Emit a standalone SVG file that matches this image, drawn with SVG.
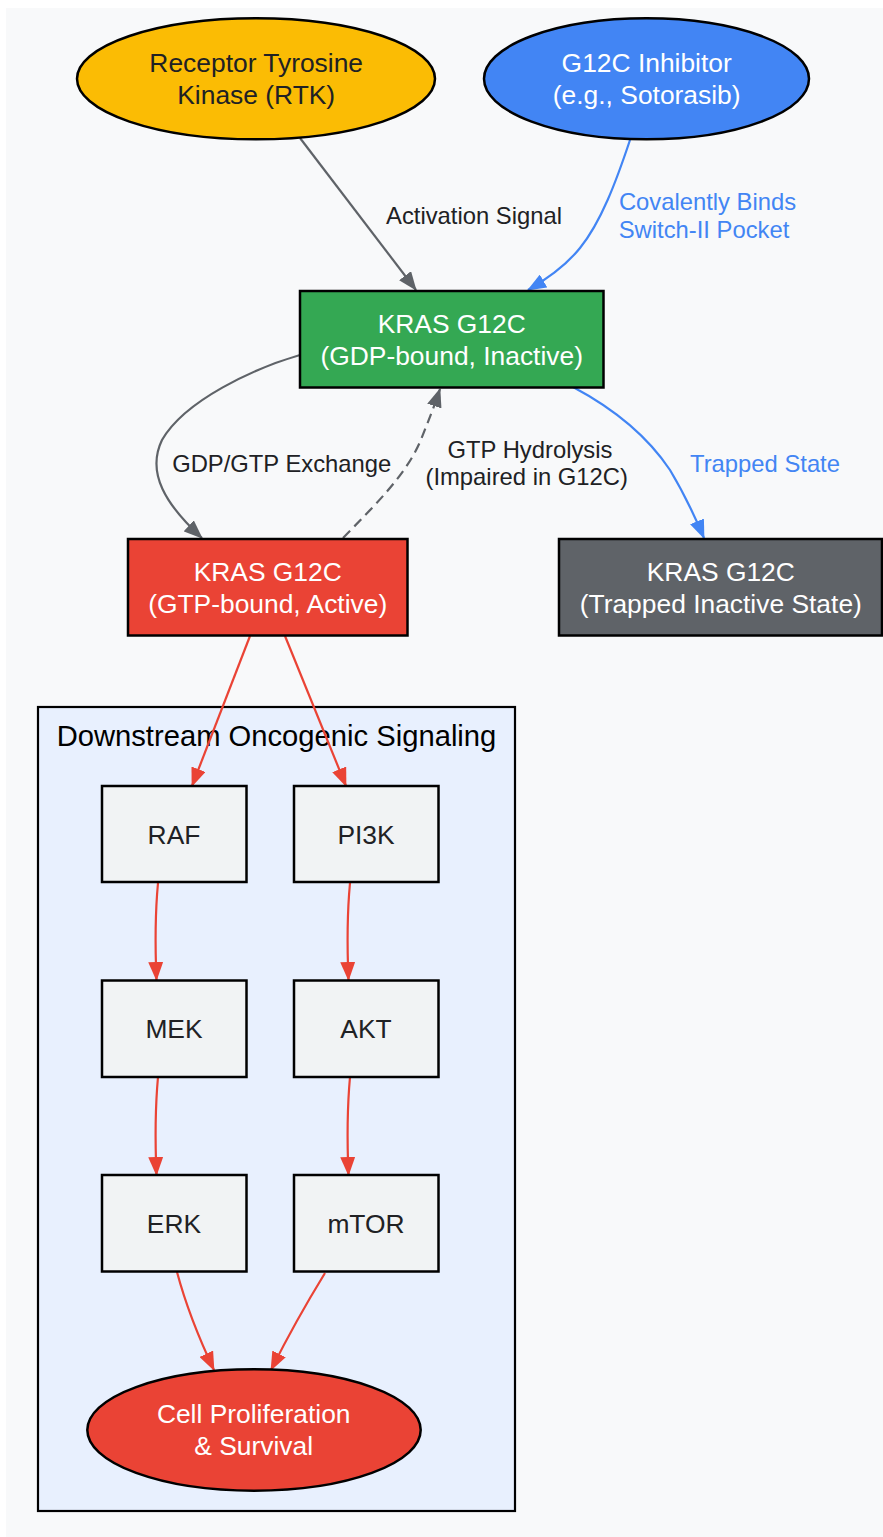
<svg xmlns="http://www.w3.org/2000/svg" width="883" height="1537" viewBox="0 0 883 1537">
<style>
text{font-family:"Liberation Sans",Arial,sans-serif}
.nt{font-size:26.4px;text-anchor:middle}
.dark{fill:#202124}
.light{fill:#ffffff}
.el{font-size:23.8px;text-anchor:middle;fill:#202124}
.elb{font-size:23.8px;text-anchor:middle;fill:#4285F4}
.box{stroke:#000000;stroke-width:2.5}
.inner{fill:#F1F3F4;stroke:#000000;stroke-width:2.5}
.e{fill:none;stroke-width:2.2}
.g{stroke:#5F6368;marker-end:url(#ag)}
.b{stroke:#4285F4;marker-end:url(#ab)}
.r{stroke:#EA4335;marker-end:url(#ar)}
</style>
<defs>
<marker id="ag" markerUnits="userSpaceOnUse" markerWidth="19" markerHeight="15" viewBox="0 0 19 15" refX="18" refY="7.5" orient="auto"><path d="M0,0 L19,7.5 L0,15 z" fill="#5F6368"/></marker>
<marker id="ab" markerUnits="userSpaceOnUse" markerWidth="19" markerHeight="15" viewBox="0 0 19 15" refX="18" refY="7.5" orient="auto"><path d="M0,0 L19,7.5 L0,15 z" fill="#4285F4"/></marker>
<marker id="ar" markerUnits="userSpaceOnUse" markerWidth="19" markerHeight="15" viewBox="0 0 19 15" refX="18" refY="7.5" orient="auto"><path d="M0,0 L19,7.5 L0,15 z" fill="#EA4335"/></marker>
</defs>
<rect x="0" y="0" width="883" height="1537" fill="#ffffff"/>
<rect x="6" y="8" width="877" height="1529" fill="#F8F9FA"/>

<g id="cluster_downstream">
<rect x="38" y="707" width="477" height="804" fill="#E8F0FE" stroke="#000000" stroke-width="2.2"/>
<text x="276.5" y="746" font-size="29.2" text-anchor="middle" fill="#000000">Downstream Oncogenic Signaling</text>
</g>

<g id="edges">
<path class="e g" d="M300,138 L416,290"/>
<text class="el" x="474" y="223.5">Activation Signal</text>
<path class="e b" d="M630,140 C616,182 601,222 580,248 C568,263 554,275 528,290"/>
<text class="elb" x="707.5" y="209.5">Covalently Binds</text>
<text class="elb" x="704" y="237.5">Switch-II Pocket</text>
<path class="e g" d="M300,355 C255,368 185,400 162,440 C146,473 166,505 202,538"/>
<text class="el" x="281.7" y="471.7">GDP/GTP Exchange</text>
<path class="e g" d="M343,538 C375,505 405,476 420,442 C428,422 434,407 440,389" stroke-dasharray="10,6"/>
<text class="el" x="530" y="457.5">GTP Hydrolysis</text>
<text class="el" x="526.7" y="485">(Impaired in G12C)</text>
<path class="e b" d="M573,387 C620,412 650,440 670,470 C682,490 693,512 704,538"/>
<text class="elb" x="765" y="471.7">Trapped State</text>
<path class="e r" d="M250,636 L192,786"/>
<path class="e r" d="M285,636 L346,786"/>
<path class="e r" d="M158,883 C155,915 155,945 156.5,980"/>
<path class="e r" d="M350,883 C347,915 347,945 348.5,980"/>
<path class="e r" d="M158,1077 C155,1110 155,1140 156.5,1175"/>
<path class="e r" d="M350,1077 C347,1110 347,1140 348.5,1175"/>
<path class="e r" d="M177,1272 C185,1302 196,1332 214,1370"/>
<path class="e r" d="M325,1273 C306,1304 290,1332 271,1370"/>
</g>

<g id="rtk">
<ellipse cx="256" cy="78.8" rx="179" ry="60.5" fill="#FBBC04" class="box"/>
<text class="nt dark" x="256.2" y="72">Receptor Tyrosine</text>
<text class="nt dark" x="256.2" y="104">Kinase (RTK)</text>
</g>
<g id="inhibitor">
<ellipse cx="646.5" cy="78.8" rx="162.5" ry="60.5" fill="#4285F4" class="box"/>
<text class="nt light" x="646.7" y="72">G12C Inhibitor</text>
<text class="nt light" x="646.7" y="104">(e.g., Sotorasib)</text>
</g>
<g id="kras_gdp">
<rect x="300" y="291" width="303.5" height="96.5" fill="#34A853" class="box"/>
<text class="nt light" x="451.7" y="332.7">KRAS G12C</text>
<text class="nt light" x="451.7" y="365">(GDP-bound, Inactive)</text>
</g>
<g id="kras_gtp">
<rect x="128" y="539" width="279.5" height="96.5" fill="#EA4335" class="box"/>
<text class="nt light" x="267.7" y="580.5">KRAS G12C</text>
<text class="nt light" x="267.7" y="612.7">(GTP-bound, Active)</text>
</g>
<g id="kras_trapped">
<rect x="559" y="539" width="323" height="96.5" fill="#5F6368" class="box"/>
<text class="nt light" x="720.8" y="580.5">KRAS G12C</text>
<text class="nt light" x="720.8" y="612.7">(Trapped Inactive State)</text>
</g>
<g id="raf">
<rect x="102" y="786" width="144.5" height="96" class="inner"/>
<text class="nt dark" x="174" y="843.5">RAF</text>
</g>
<g id="pi3k">
<rect x="294" y="786" width="144.5" height="96" class="inner"/>
<text class="nt dark" x="366" y="843.5">PI3K</text>
</g>
<g id="mek">
<rect x="102" y="980.5" width="144.5" height="96.5" class="inner"/>
<text class="nt dark" x="174" y="1038">MEK</text>
</g>
<g id="akt">
<rect x="294" y="980.5" width="144.5" height="96.5" class="inner"/>
<text class="nt dark" x="366" y="1038">AKT</text>
</g>
<g id="erk">
<rect x="102" y="1175" width="144.5" height="96.5" class="inner"/>
<text class="nt dark" x="174" y="1232.5">ERK</text>
</g>
<g id="mtor">
<rect x="294" y="1175" width="144.5" height="96.5" class="inner"/>
<text class="nt dark" x="366" y="1232.5">mTOR</text>
</g>
<g id="cell">
<ellipse cx="254" cy="1430" rx="166.7" ry="60.7" fill="#EA4335" class="box"/>
<text class="nt light" x="253.7" y="1423">Cell Proliferation</text>
<text class="nt light" x="253.7" y="1455">&amp; Survival</text>
</g>
</svg>
